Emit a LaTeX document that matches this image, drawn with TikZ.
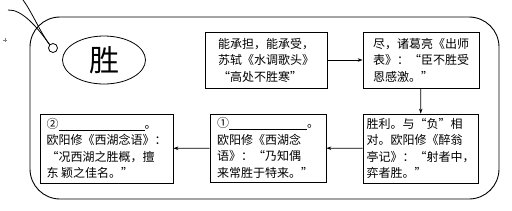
\documentclass[tikz,border=0pt]{standalone}
\usepackage{fontspec}
\setmainfont{Noto Sans CJK SC}
\usetikzlibrary{arrows.meta,shapes.geometric}
\tikzset{
  textbox/.style={draw, line width=0.8pt, align=left, inner sep=0pt,
    font=\fontsize{12}{16.5}\selectfont},
  flow/.style={-{Stealth[length=5pt,width=3.5pt]}, line width=0.7pt},
  frame/.style={line width=0.9pt, rounded corners=30pt},
  string/.style={line width=0.8pt}
}
\begin{document}
\begin{tikzpicture}[x=1pt,y=-1pt]
\useasboundingbox (0,0) rectangle (512,210);
% outer frame
\draw[frame] (30,17) rectangle (499,199);
% tag hole and strings
\node[circle, draw, line width=0.8pt, minimum size=9pt, inner sep=0pt, fill=white] (hole) at (53,48) {};
\coordinate (sa) at (8,10);
\coordinate (sb) at (23,0);
\draw[string] (sa) .. controls (22,9) and (38,28) .. (hole.north west);
\draw[string] (sb) .. controls (32,12) and (40,32) .. (hole.north west);
% small mark
\draw[gray, line width=0.4pt] (3,40) -- (7,40) (5,38) -- (5,42);
% title
\node[ellipse, draw, line width=0.8pt, minimum width=83pt, minimum height=48pt, inner sep=0pt,
  font=\fontsize{30}{30}\selectfont] (title) at (104,60) {胜};
% boxes
\node[textbox, minimum width=122pt, minimum height=56pt] (b1) at (266,60)
  {能承担，能承受，\\苏轼《水调歌头》\\“高处不胜寒”};
\node[textbox, minimum width=116pt, minimum height=56pt] (b2) at (421,60)
  {尽，诸葛亮《出师\\表》：“臣不胜受\\恩感激。”};
\node[textbox, minimum width=115pt, minimum height=69pt] (b3) at (420.5,148.5)
  {胜利。与“负”相\\对。欧阳修《醉翁\\亭记》：“射者中，\\弈者胜。”};
\node[textbox, minimum width=116pt, minimum height=68pt] (b4) at (268,148)
  {①\underline{\hspace{78pt}}。\\欧阳修《西湖念\\语》：“乃知偶\\来常胜于特来。”};
\node[textbox, minimum width=133pt, minimum height=69pt] (b5) at (106.5,148.5)
  {②\underline{\hspace{86pt}}。\\欧阳修《西湖念语》：\\“况西湖之胜概，擅\\东 颖之佳名。”};
% connectors
\draw[flow] (b1) -- (b2);
\draw[flow] (b2) -- (b3);
\draw[flow] (b3) -- (b4);
\draw[flow] (b4) -- (b5);
\end{tikzpicture}
\end{document}
